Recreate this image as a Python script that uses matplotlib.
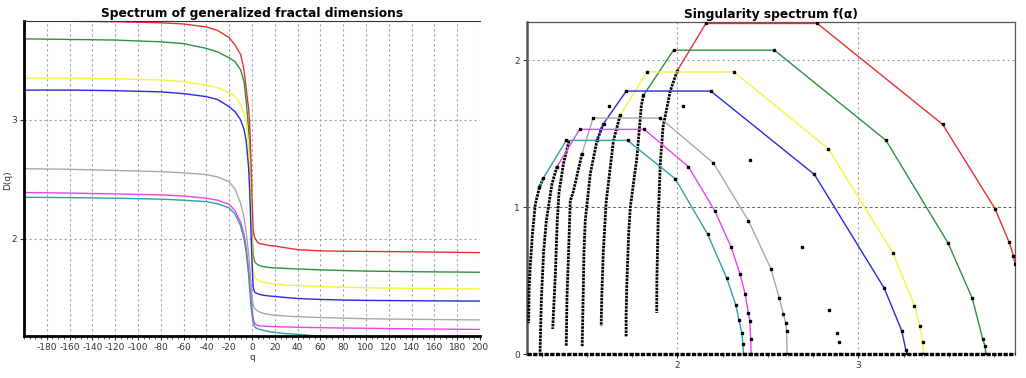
import numpy as np
import matplotlib.pyplot as plt
from matplotlib.ticker import MultipleLocator

plt.rcParams['axes.unicode_minus'] = False

# ---- left panel: D(q) ----
q = [-200, -160, -120, -80, -60, -40, -30, -20, -15, -10, -7, -5, -3, -2, -1, 0, 1, 2, 3, 5, 7,
     10, 15, 20, 30, 40, 60, 80, 100, 140, 200]
D_red = [3.835, 3.828, 3.824, 3.815, 3.805, 3.78, 3.75, 3.69, 3.63, 3.55, 3.42, 3.25, 3.1, 2.95, 2.7, 2.35, 2.08,
         2.02, 2.0, 1.97, 1.96, 1.955, 1.945, 1.94, 1.925, 1.91, 1.9, 1.897, 1.895, 1.892, 1.885]
D_green = [3.68, 3.675, 3.67, 3.655, 3.64, 3.6, 3.57, 3.52, 3.49, 3.42, 3.32, 3.15, 2.92, 2.7, 2.4, 2.05, 1.87,
           1.82, 1.8, 1.785, 1.775, 1.768, 1.76, 1.757, 1.752, 1.748, 1.74, 1.735, 1.73, 1.725, 1.72]
D_yellow = [3.35, 3.35, 3.345, 3.335, 3.32, 3.29, 3.27, 3.23, 3.2, 3.13, 3.05, 2.97, 2.8, 2.6, 2.3, 1.95, 1.74,
            1.69, 1.67, 1.655, 1.645, 1.635, 1.628, 1.622, 1.612, 1.608, 1.6, 1.595, 1.59, 1.585, 1.58]
D_blue = [3.25, 3.25, 3.245, 3.235, 3.22, 3.195, 3.17, 3.11, 3.07, 3.0, 2.92, 2.82, 2.6, 2.4, 2.1, 1.8, 1.6,
          1.56, 1.548, 1.54, 1.533, 1.527, 1.521, 1.517, 1.508, 1.5, 1.492, 1.487, 1.484, 1.481, 1.478]
D_gray = [2.59, 2.585, 2.575, 2.565, 2.555, 2.54, 2.52, 2.48, 2.42, 2.3, 2.18, 2.05, 1.88, 1.77, 1.65, 1.52, 1.45,
          1.42, 1.41, 1.395, 1.385, 1.375, 1.365, 1.36, 1.352, 1.347, 1.34, 1.335, 1.33, 1.325, 1.32]
D_magenta = [2.39, 2.385, 2.378, 2.37, 2.36, 2.342, 2.325, 2.29, 2.24, 2.14, 2.04, 1.92, 1.75, 1.63, 1.52, 1.42,
             1.34, 1.3, 1.285, 1.275, 1.27, 1.268, 1.265, 1.263, 1.261, 1.258, 1.255, 1.252, 1.25, 1.245, 1.24]
D_teal = [2.35, 2.347, 2.342, 2.334, 2.325, 2.313, 2.295, 2.26, 2.21, 2.11, 2.0, 1.88, 1.7, 1.57, 1.45, 1.36, 1.3,
          1.27, 1.255, 1.245, 1.24, 1.232, 1.222, 1.215, 1.205, 1.2, 1.182, 1.176, 1.172, 1.17, 1.168]
q_ticks = list(range(-180, 201, 20))

# ---- right panel: f(alpha) ----
# polyline vertices (black square markers) and dense left-branch columns
red_a = [1.998, 2.157, 2.773, 3.466, 3.755, 3.834, 3.857, 3.866, 3.875]
red_f = [1.927, 2.25, 2.25, 1.563, 0.99, 0.76, 0.67, 0.61, 0.58]
red_col_a = [1.998, 1.96, 1.92, 1.905, 1.893, 1.886, 1.885]
red_col_f = [1.927, 1.79, 1.545, 1.30, 0.9, 0.5, 0.28]

green_a = [1.812, 1.978, 2.536, 3.153, 3.497, 3.63, 3.687, 3.70, 3.705]
green_f = [1.761, 2.068, 2.068, 1.454, 0.753, 0.378, 0.105, 0.055, 0.0]
green_col_a = [1.812, 1.80, 1.776, 1.739, 1.73, 1.72, 1.716, 1.716]
green_col_f = [1.761, 1.69, 1.34, 1.0, 0.82, 0.48, 0.26, 0.12]

yellow_a = [1.683, 1.831, 2.313, 2.834, 3.19, 3.31, 3.34, 3.355, 3.36]
yellow_f = [1.625, 1.92, 1.92, 1.397, 0.69, 0.33, 0.19, 0.08, 0.0]
yellow_col_a = [1.683, 1.646, 1.613, 1.606, 1.59, 1.581, 1.578]
yellow_col_f = [1.625, 1.454, 1.11, 1.04, 0.70, 0.38, 0.19]

blue_a = [1.555, 1.591, 1.717, 2.184, 2.757, 3.144, 3.24, 3.262, 3.27]
blue_f = [1.454, 1.568, 1.79, 1.79, 1.222, 0.446, 0.157, 0.03, 0.0]
blue_col_a = [1.591, 1.555, 1.518, 1.49, 1.483, 1.478, 1.473]
blue_col_f = [1.568, 1.454, 1.228, 0.908, 0.70, 0.36, 0.05]

black_a = [1.619, 2.03, 2.40, 2.69, 2.84, 2.88, 2.895, 2.90]
black_f = [1.69, 1.69, 1.32, 0.73, 0.30, 0.14, 0.08, 0.0]
black_col_a = [1.40, 1.37, 1.345, 1.335, 1.325, 1.31]
black_col_f = [1.45, 1.30, 1.10, 0.90, 0.55, 0.17]

gray_a = [1.472, 1.533, 1.905, 2.199, 2.392, 2.516, 2.562, 2.586, 2.598, 2.603, 2.606]
gray_f = [1.363, 1.606, 1.606, 1.30, 0.908, 0.582, 0.384, 0.27, 0.214, 0.157, 0.0]
gray_col_a = [1.472, 1.425, 1.407, 1.398, 1.389, 1.385]
gray_col_f = [1.363, 1.11, 1.04, 0.70, 0.38, 0.05]

magenta_a = [1.334, 1.459, 1.816, 2.06, 2.208, 2.297, 2.346, 2.374, 2.392, 2.40, 2.405, 2.407]
magenta_f = [1.276, 1.529, 1.529, 1.276, 0.971, 0.726, 0.544, 0.41, 0.28, 0.225, 0.1, 0.0]
magenta_col_a = [1.334, 1.306, 1.275, 1.26, 1.247, 1.24]
magenta_col_f = [1.276, 1.158, 0.908, 0.70, 0.36, 0.0]

teal_a = [1.237, 1.259, 1.385, 1.724, 1.988, 2.166, 2.273, 2.323, 2.34, 2.355, 2.362, 2.365]
teal_f = [1.135, 1.199, 1.454, 1.454, 1.192, 0.817, 0.514, 0.332, 0.23, 0.145, 0.07, 0.0]
teal_col_a = [1.259, 1.237, 1.214, 1.198, 1.186, 1.18, 1.177]
teal_col_f = [1.199, 1.135, 1.02, 0.82, 0.6, 0.45, 0.21]

c_red, c_green, c_yellow, c_blue = '#e83030', '#2f8f3f', '#f4f43a', '#2a2ae0'
c_gray, c_magenta, c_teal = '#a8a8a8', '#f040f0', '#30a0a0'

fig = plt.figure(figsize=(10.26, 3.78), dpi=100)
ax1 = fig.add_axes([24 / 1026, 1 - 336 / 378, 456 / 1026, 315 / 378])
ax2 = fig.add_axes([527 / 1026, 1 - 354 / 378, 488 / 1026, 332 / 378])

grid_kw = dict(color='#a0a0a0', lw=0.8, ls=(0, (2, 2.5)))
tick_col = '#333333'

# left
for x in q_ticks:
    ax1.axvline(x, zorder=0, **grid_kw)
for y in [2, 3]:
    ax1.axhline(y, zorder=0, **grid_kw)
for D, c in [(D_red, c_red), (D_green, c_green), (D_yellow, c_yellow), (D_blue, c_blue),
             (D_gray, c_gray), (D_magenta, c_magenta), (D_teal, c_teal)]:
    ax1.plot(q, D, color=c, lw=1.0)
ax1.set_xlim(-200, 200)
ax1.set_ylim(1.185, 3.83)
ax1.set_xticks(q_ticks)
ax1.xaxis.set_minor_locator(MultipleLocator(5))
ax1.set_yticks([2, 3])
ax1.tick_params(axis='both', labelsize=6.5, colors=tick_col, length=3, width=0.8, pad=2)
ax1.tick_params(axis='x', which='minor', length=2, width=0.6, colors=tick_col)
ax1.spines['left'].set_linewidth(2)
ax1.spines['bottom'].set_linewidth(2)
ax1.spines['top'].set_linewidth(0.8)
ax1.spines['top'].set_color('#333333')
ax1.spines['right'].set_visible(False)
ax1.set_title('Spectrum of generalized fractal dimensions', fontsize=8.8, fontweight='bold', pad=3)
ax1.set_xlabel('q', fontsize=6.5, color=tick_col, labelpad=1)
fig.text(8 / 1026, 1 - 180 / 378, 'D(q)', fontsize=6.5, color=tick_col, rotation=90,
         ha='center', va='center')

# right
for x in [2, 3]:
    ax2.axvline(x, zorder=0, **grid_kw)
ax2.axhline(2, zorder=0, **grid_kw)
ax2.axhline(1, zorder=0, color='#606060', lw=0.7, ls=(0, (3, 2.5)))
mk = dict(marker='s', markersize=1.8, markerfacecolor='black', markeredgecolor='black')
col_kw = dict(color='black', lw=2.0, ls=(0, (0.9, 0.35)), zorder=3)
series = [(red_a, red_f, red_col_a, red_col_f, c_red),
          (green_a, green_f, green_col_a, green_col_f, c_green),
          (yellow_a, yellow_f, yellow_col_a, yellow_col_f, c_yellow),
          (blue_a, blue_f, blue_col_a, blue_col_f, c_blue),
          (gray_a, gray_f, gray_col_a, gray_col_f, c_gray),
          (magenta_a, magenta_f, magenta_col_a, magenta_col_f, c_magenta),
          (teal_a, teal_f, teal_col_a, teal_col_f, c_teal)]
for a, f, ca, cf, c in series:
    ax2.plot(ca, cf, **col_kw)
    ax2.plot(a, f, color=c, lw=1.0, zorder=4, **mk)
ax2.plot(black_col_a, black_col_f, **col_kw)
ax2.plot(black_a, black_f, ls='none', zorder=4, **mk)
ax2.axhline(0, color='black', lw=2.4, ls=(0, (1.3, 0.4)), zorder=5, clip_on=False)
ax2.set_xlim(1.168, 3.866)
ax2.set_ylim(0, 2.26)
ax2.set_xticks([2, 3])
ax2.xaxis.set_minor_locator(MultipleLocator(0.25))
ax2.set_yticks([0, 1, 2])
ax2.tick_params(axis='both', labelsize=6.5, colors=tick_col, length=3, width=0.8, pad=2)
ax2.tick_params(axis='x', which='minor', length=2, width=0.6, colors=tick_col)
ax2.spines['left'].set_linewidth(1.8)
ax2.spines['left'].set_color('#555555')
ax2.spines['bottom'].set_visible(False)
for s in ['top', 'right']:
    ax2.spines[s].set_linewidth(0.9)
    ax2.spines[s].set_color('#555555')
ax2.set_title('Singularity spectrum f(\u03b1)', fontsize=8.8, fontweight='bold', pad=3)

fig.savefig('out.png', dpi=100)
